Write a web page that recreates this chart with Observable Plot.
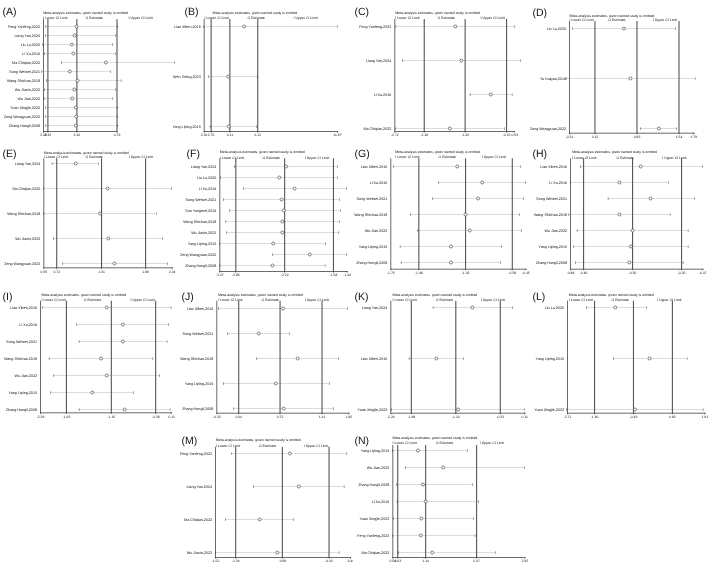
<!DOCTYPE html>
<html><head><meta charset="utf-8">
<script src="https://cdn.jsdelivr.net/npm/d3@7"></script>
<script src="https://cdn.jsdelivr.net/npm/@observablehq/plot@0.6"></script>
<style>
html,body{margin:0;padding:0;background:#fff;}
#wrap{position:relative;width:708px;height:564px;overflow:hidden;background:#fff;}
.panel{position:absolute;will-change:transform;}
.panel svg{display:block;max-width:none;}
.panel svg text{text-rendering:geometricPrecision;}
</style></head><body><div id="wrap"></div>
<script>
const subtitle = "Meta-analysis estimates, given named study is omitted";
const legendLabels = ["I Lower CI Limit", "O Estimate", "I Upper CI Limit"];

const ticksA = [2.28, 2.43, 3.42, 4.79];
const namesA = ["Feng Yanfeng,2023","Liang Yan,2024","Liu Lu,2020","Li Xu,2016","Ma Chiqian,2022","Song Weiwei,2021","Wang Shichao,2018","Wu Jiaxin,2023","Wu Jian,2022","Yuan Xingjie,2023","Zong Wangyuan,2022","Zhang Hongli,2008"];
const estA = [3.41,3.34,3.25,3.30,4.41,3.18,3.44,3.33,3.26,3.38,3.40,3.38];
const loA = [2.36,2.34,2.26,2.32,2.90,2.22,2.39,2.32,2.30,2.36,2.36,2.36];
const hiA = [4.82,4.75,4.65,4.74,6.75,4.58,4.93,4.75,4.65,4.82,4.82,4.82];

const ticksB = [2.26, 2.76, 4.11, 6.12, 11.87];
const namesB = ["Liao Xiben,2016","Wen Gelog,2023","Yang Liping,2015"];
const estB = [5.14, 3.99, 4.03];
const loB = [2.23, 2.59, 2.69];
const hiB = [11.87, 6.10, 6.03];

const ticksC = [-2.72, -2.18, -1.43, -0.67, -0.53];
const namesC = ["Feng Yanfeng,2023","Liang Yan,2024","Li Xu,2016","Ma Chiqian,2022"];
const estC = [-1.61, -1.50, -0.96, -1.71];
const loC = [-2.70, -2.58, -1.34, -2.71];
const hiC = [-0.52, -0.41, -0.57, -0.71];

const ticksD = [-0.31, 0.12, 0.83, 1.54, 1.79];
const namesD = ["Liu Lu,2020","Yu Kaiguo,2019","Zong Wangyuan,2022"];
const estD = [0.61, 0.72, 1.20];
const loD = [-0.26, -0.37, 0.89];
const hiD = [1.48, 1.81, 1.50];

const ticksE = [0.55, 0.72, 1.31, 1.89, 2.24];
const namesE = ["Liang Yan,2024","Ma Chiqian,2022","Wang Shichao,2018","Wu Jiaxin,2023","Zeng Wangyuan,2022"];
const estE = [0.97, 1.39, 1.29, 1.40, 1.48];
const loE = [0.66, 0.55, 0.55, 0.68, 0.80];
const hiE = [1.27, 2.23, 2.03, 2.11, 2.18];

const ticksF = [-3.07, -2.86, -2.22, -1.58, -1.40];
const namesF = ["Liang Yan,2024","Liu Lu,2020","Li Xu,2019","Song Weiwei,2021","Sun Yongmei,2019","Wang Shichao,2018","Wu Jiaxin,2023","Yang Liping,2015","Zeng Wangyuan,2022","Zhang Hongli,2008"];
const estF = [-2.20, -2.29, -2.09, -2.26, -2.23, -2.25, -2.25, -2.37, -1.89, -2.38];
const loF = [-2.88, -3.06, -2.76, -3.02, -2.94, -2.99, -2.98, -3.07, -2.38, -3.07];
const hiF = [-1.53, -1.53, -1.41, -1.50, -1.49, -1.50, -1.51, -1.68, -1.41, -1.69];

const ticksG = [-1.75, -1.48, -1.03, -0.58, -0.45];
const namesG = ["Liao Xiben,2016","Li Xu,2016","Song Weiwei,2021","Wang Shichao,2018","Wu Jian,2022","Yang Liping,2015","Zhang Hongli,2008"];
const estG = [-1.11, -0.87, -0.91, -1.03, -0.99, -1.17, -1.17];
const loG = [-1.72, -1.29, -1.35, -1.56, -1.49, -1.66, -1.65];
const hiG = [-0.50, -0.45, -0.47, -0.51, -0.49, -0.68, -0.69];

const ticksH = [-0.88, -0.80, -0.50, -0.20, -0.07];
const namesH = ["Liao Xiben,2016","Li Xu,2016","Song Weiwei,2021","Wang Shichao,2018","Wu Jian,2022","Yang Liping,2015","Zhang Hongli,2008"];
const estH = [-0.45, -0.58, -0.39, -0.58, -0.50, -0.51, -0.52];
const loH = [-0.82, -0.88, -0.65, -0.89, -0.84, -0.86, -0.85];
const hiH = [-0.07, -0.28, -0.12, -0.27, -0.16, -0.16, -0.19];

const ticksI = [-2.38, -1.93, -1.15, -0.38, -0.11];
const namesI = ["Liao Xiben,2016","Li Xu,2016","Song Weiwei,2021","Wang Shichao,2018","Wu Jian,2022","Yang Liping,2015","Zhang Hongli,2008"];
const estI = [-1.23, -0.95, -0.95, -1.33, -1.23, -1.48, -0.92];
const loI = [-2.35, -1.75, -1.71, -2.23, -2.15, -2.20, -1.71];
const hiI = [-0.11, -0.15, -0.18, -0.43, -0.31, -0.76, -0.13];

const ticksJ = [-0.32, 0.04, 0.72, 1.41, 1.85];
const namesJ = ["Liao Xiben,2016","Song Weiwei,2021","Wang Shichao,2018","Yang Liping,2015","Zhang Hongli,2008"];
const estJ = [0.77, 0.37, 1.01, 0.65, 0.78];
const loJ = [-0.29, -0.14, 0.33, -0.21, -0.04];
const hiJ = [1.83, 0.88, 1.68, 1.53, 1.60];

const ticksK = [-2.24, -1.88, -1.10, -0.32, 0.11];
const namesK = ["Liang Yan,2024","Liao Xiben,2016","Yuan Xingjie,2023"];
const estK = [-0.81, -1.44, -1.06];
const loK = [-1.50, -1.92, -2.23];
const hiK = [-0.10, -0.96, 0.11];

const ticksL = [-2.71, -1.80, -0.49, 0.82, 1.91];
const namesL = ["Liu Lu,2020","Yang Liping,2015","Yuan Xingjie,2023"];
const estL = [-1.10, 0.05, -0.44];
const loL = [-2.08, -1.16, -2.73];
const hiL = [-0.04, 1.31, 1.85];

const ticksM = [-1.52, -1.36, -0.99, -0.62, -0.45];
const namesM = ["Feng Yanfeng,2023","Liang Yan,2024","Ma Chiqian,2022","Wu Jiaxin,2023"];
const estM = [-0.93, -0.86, -1.17, -1.03];
const loM = [-1.39, -1.22, -1.44, -1.52];
const hiM = [-0.48, -0.50, -0.90, -0.54];

const ticksN = [0.54, 0.63, 1.14, 2.07, 2.95];
const namesN = ["Yang Liping,2015","Wu Jian,2022","Zhang Hongli,2008","Li Xu,2016","Yuan Xingjie,2023","Feng Yanfeng,2023","Ma Chiqian,2022"];
const estN = [1.00, 1.46, 1.09, 1.14, 1.06, 1.05, 1.26];
const loN = [0.53, 0.77, 0.61, 0.62, 0.56, 0.54, 0.65];
const hiN = [1.90, 2.95, 1.99, 2.10, 2.02, 2.04, 2.42];

const panels = [
  {id:"A", names:namesA, est:estA, lo:loA, hi:hiA, ticks:ticksA},
  {id:"B", names:namesB, est:estB, lo:loB, hi:hiB, ticks:ticksB},
  {id:"C", names:namesC, est:estC, lo:loC, hi:hiC, ticks:ticksC},
  {id:"D", names:namesD, est:estD, lo:loD, hi:hiD, ticks:ticksD},
  {id:"E", names:namesE, est:estE, lo:loE, hi:hiE, ticks:ticksE},
  {id:"F", names:namesF, est:estF, lo:loF, hi:hiF, ticks:ticksF},
  {id:"G", names:namesG, est:estG, lo:loG, hi:hiG, ticks:ticksG},
  {id:"H", names:namesH, est:estH, lo:loH, hi:hiH, ticks:ticksH},
  {id:"I", names:namesI, est:estI, lo:loI, hi:hiI, ticks:ticksI},
  {id:"J", names:namesJ, est:estJ, lo:loJ, hi:hiJ, ticks:ticksJ},
  {id:"K", names:namesK, est:estK, lo:loK, hi:hiK, ticks:ticksK},
  {id:"L", names:namesL, est:estL, lo:loL, hi:hiL, ticks:ticksL},
  {id:"M", names:namesM, est:estM, lo:loM, hi:hiM, ticks:ticksM},
  {id:"N", names:namesN, est:estN, lo:loN, hi:hiN, ticks:ticksN}
];

// page layout (pixels)
const layout = {
  A:{x0:0,y0:0,w:177,L:43,R:116.5,ftop:19,first:25,last:126,base:131,labX:2,labY:7.5,titleX:42.7,titleY:11,legY:16.3,legX:[42.7,85,128]},
  B:{x0:173,y0:0,w:180,L:203.7,R:337,ftop:19,first:25.3,last:126.7,base:131,labX:184,labY:7.5,titleX:212,titleY:11,legY:16.3,legX:[204,247,293]},
  C:{x0:352,y0:0,w:178,L:394.3,R:513.7,ftop:19,first:25.3,last:127.7,base:131,labX:354,labY:7.5,titleX:394.7,titleY:11,legY:16.3,legX:[394.7,437,480]},
  D:{x0:530,y0:0,w:178,L:569,R:693.3,ftop:21,first:27.3,last:128.7,base:132.7,labX:532,labY:8.3,titleX:569,titleY:14,legY:18.3,legX:[569,607.7,652.3]},
  E:{x0:0,y0:141,w:177,L:43.3,R:171.7,ftop:158.3,first:163.3,last:263.3,base:267.3,labX:2,labY:149,titleX:43.3,titleY:150.7,legY:155.5,legX:[43.3,85,128.3]},
  F:{x0:176,y0:141,w:177,L:219.3,R:346.7,ftop:158.3,first:163.7,last:267.3,base:271,labX:186,labY:149,titleX:219.3,titleY:150.3,legY:155.7,legX:[219.3,262,304.3]},
  G:{x0:352,y0:141,w:178,L:390.3,R:525.3,ftop:158.3,first:163.7,last:265,base:268.7,labX:354,labY:149,titleX:394.7,titleY:150,legY:155.3,legX:[394.7,438,481.3]},
  H:{x0:530,y0:141,w:178,L:570,R:702.3,ftop:158.3,first:163.7,last:265,base:268.7,labX:532,labY:149,titleX:571.7,titleY:150.3,legY:155.7,legX:[571.7,616,661.7]},
  I:{x0:0,y0:284,w:177,L:40,R:170.7,ftop:300.7,first:306.7,last:408.7,base:412.3,labX:2,labY:291.7,titleX:41,titleY:292.7,legY:298,legX:[41,83.3,130]},
  J:{x0:176,y0:284,w:177,L:216.3,R:348.3,ftop:300.7,first:306.7,last:408.7,base:412.7,labX:181,labY:291.7,titleX:217.7,titleY:292.7,legY:298,legX:[217.7,261,304.3]},
  K:{x0:352,y0:284,w:178,L:390.3,R:524.3,ftop:300.7,first:306.7,last:408.7,base:412.7,labX:354,labY:291.7,titleX:392,titleY:292.7,legY:298,legX:[392,435.3,480.3]},
  L:{x0:530,y0:284,w:178,L:567,R:704.3,ftop:300.7,first:306.7,last:408.7,base:412.7,labX:532,labY:291.7,titleX:568.3,titleY:292.7,legY:298,legX:[568.3,611,656.7]},
  M:{x0:176,y0:428,w:177,L:215,R:350,ftop:446.7,first:452.3,last:553.3,base:557,labX:181,labY:436.3,titleX:215.3,titleY:438,legY:444,legX:[215.3,258.3,303.3]},
  N:{x0:352,y0:428,w:178,L:392.3,R:524.3,ftop:445,first:449,last:552.7,base:557,labX:354,labY:436.3,titleX:392,titleY:436,legY:441,legX:[392,435.3,479.3]}
};

const wrap = document.getElementById("wrap");
const fmt = d => d.toFixed(2);
const FONT = "'Liberation Sans', Arial, sans-serif";

for (const p of panels) {
  const g = layout[p.id];
  const rows = p.names.map((n, i) => ({name: n, lo: p.lo[i], est: p.est[i], hi: p.hi[i]}));
  const mb = 9;
  const height = g.base + mb - g.y0;
  const marginTop = g.ftop - g.y0;
  const marginLeft = g.L - g.x0;
  const marginRight = g.x0 + g.w - g.R;
  const top = (x, y) => ({frameAnchor: "top-left", dx: x - g.L, dy: y - g.ftop});
  const chart = Plot.plot({
    width: g.w, height, marginTop, marginLeft, marginRight, marginBottom: mb,
    style: {fontFamily: FONT, color: "#111", background: "transparent", overflow: "hidden"},
    x: {domain: [p.ticks[0], p.ticks[p.ticks.length - 1]], label: null},
    y: {type: "point", domain: p.names, padding: 0, insetTop: g.first - g.ftop, insetBottom: g.base - g.last, label: null},
    marks: [
      Plot.ruleY(rows, {y: "name", x1: "lo", x2: "hi", stroke: "#c4c4c4", strokeWidth: 0.6}),
      Plot.ruleX(p.ticks.slice(1, 4), {stroke: "#555", strokeWidth: 1.1}),
      Plot.ruleX([p.ticks[0]], {stroke: "#444", strokeWidth: 0.8}),
      Plot.frame({anchor: "bottom", stroke: "#444", strokeWidth: 0.8}),
      Plot.text(rows, {x: "lo", y: "name", text: () => "I", fontSize: 4.2, fill: "#222"}),
      Plot.text(rows, {x: "hi", y: "name", text: () => "I", fontSize: 4.2, fill: "#222"}),
      Plot.dot(rows, {x: "est", y: "name", r: 1.5, stroke: "#333", strokeWidth: 0.6, fill: "white"}),
      Plot.axisX({ticks: p.ticks, tickFormat: fmt, tickSize: 1.5, tickPadding: 1, fontSize: 3.4, stroke: "#444", label: null}),
      Plot.axisY({tickSize: 0, tickPadding: 3.5, fontSize: 3.7, label: null}),
      Plot.text(["(" + p.id + ")"], {...top(g.labX, g.labY), textAnchor: "start", fontSize: 10.5, fill: "#111"}),
      Plot.text([subtitle], {...top(g.titleX, g.titleY), textAnchor: "start", fontSize: 3.5}),
      Plot.text([legendLabels[0]], {...top(g.legX[0], g.legY), textAnchor: "start", fontSize: 3.5}),
      Plot.text([legendLabels[1]], {...top(g.legX[1], g.legY), textAnchor: "start", fontSize: 3.5}),
      Plot.text([legendLabels[2]], {...top(g.legX[2], g.legY), textAnchor: "start", fontSize: 3.5})
    ]
  });
  const div = document.createElement("div");
  div.className = "panel";
  div.style.left = g.x0 + "px";
  div.style.top = g.y0 + "px";
  div.style.width = g.w + "px";
  div.appendChild(chart);
  wrap.appendChild(div);
}
</script>
</body></html>
